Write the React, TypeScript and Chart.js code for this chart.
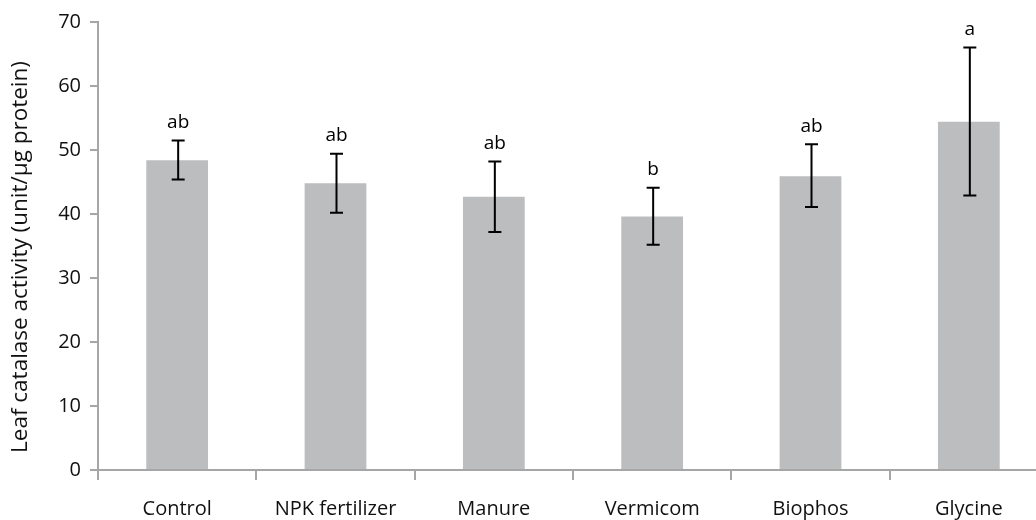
import React, { useEffect, useRef } from "react";
import { Chart, registerables } from "chart.js";

Chart.register(...registerables);

const categories = ["Control", "NPK fertilizer", "Manure", "Vermicom", "Biophos", "Glycine"];
const means = [48.4, 44.8, 42.7, 39.6, 45.9, 54.4];
const errLow = [45.4, 40.2, 37.2, 35.2, 41.1, 42.9];
const errHigh = [51.5, 49.4, 48.2, 44.1, 50.9, 66.0];
const letters = ["ab", "ab", "ab", "b", "ab", "a"];
const yTicks = [0, 10, 20, 30, 40, 50, 60, 70];
const yTitle = "Leaf catalase activity (unit/µg protein)";

const FONT = "'Open Sans', 'Noto Sans', sans-serif";
const AXIS = "#a6a6a6";

const overlay = {
  id: "overlay",
  afterDatasetsDraw(chart: any) {
    const ctx = chart.ctx;
    const x = chart.scales.x;
    const y = chart.scales.y;
    ctx.save();
    ctx.strokeStyle = "#000";
    ctx.lineWidth = 2;
    ctx.fillStyle = "#000";
    ctx.font = `19px ${FONT}`;
    ctx.textAlign = "center";
    ctx.textBaseline = "middle";
    categories.forEach((_, i) => {
      const cx = x.getPixelForValue(i) + 1;
      const yt = y.getPixelForValue(errHigh[i]);
      const yb = y.getPixelForValue(errLow[i]);
      const cap = 6.5;
      ctx.beginPath();
      ctx.moveTo(cx, yt);
      ctx.lineTo(cx, yb);
      ctx.moveTo(cx - cap, yt);
      ctx.lineTo(cx + cap, yt);
      ctx.moveTo(cx - cap, yb);
      ctx.lineTo(cx + cap, yb);
      ctx.stroke();
      ctx.fillText(letters[i], cx, yt - 18);
    });
    // y-axis title
    ctx.font = `22.5px ${FONT}`;
    ctx.translate(21, 257);
    ctx.rotate(-Math.PI / 2);
    ctx.fillStyle = "#111";
    ctx.fillText(yTitle, 0, 0);
    ctx.restore();
  },
};

export default function App() {
  const ref = useRef<HTMLCanvasElement>(null);
  useEffect(() => {
    if (!ref.current) return;
    const chart = new Chart(ref.current, {
      type: "bar",
      data: {
        labels: categories,
        datasets: [
          {
            data: means,
            backgroundColor: "#bcbdbf",
            borderWidth: 0,
            categoryPercentage: 1,
            barPercentage: 0.39,
          },
        ],
      },
      options: {
        responsive: false,
        animation: false,
        layout: { padding: { top: 22, right: 12, left: 0, bottom: 0 } },
        plugins: { legend: { display: false }, tooltip: { enabled: false } },
        scales: {
          x: {
            afterFit: (s: any) => {
              s.height = 50;
            },
            grid: {
              drawOnChartArea: false,
              drawTicks: true,
              tickLength: 10,
              color: AXIS,
              lineWidth: 2,
              offset: true,
            },
            border: { color: AXIS, width: 2 },
            ticks: { color: "#111", font: { family: FONT, size: 20 }, padding: 17, maxRotation: 0 },
          },
          y: {
            min: 0,
            max: 70,
            afterFit: (s: any) => {
              s.width = 98;
            },
            afterBuildTicks: (s: any) => {
              s.ticks = yTicks.map((v) => ({ value: v }));
            },
            grid: {
              drawOnChartArea: false,
              drawTicks: true,
              tickLength: 8,
              color: AXIS,
              lineWidth: 2,
            },
            border: { color: AXIS, width: 2 },
            ticks: { color: "#111", font: { family: FONT, size: 20 }, padding: 9 },
          },
        },
      },
      plugins: [overlay],
    });
    return () => chart.destroy();
  }, []);
  return (
    <div style={{ position: "fixed", left: 0, top: 0, width: 1036, height: 520, overflow: "hidden", background: "#fff" }}>
      <canvas ref={ref} width={1060} height={520} />
    </div>
  );
}
